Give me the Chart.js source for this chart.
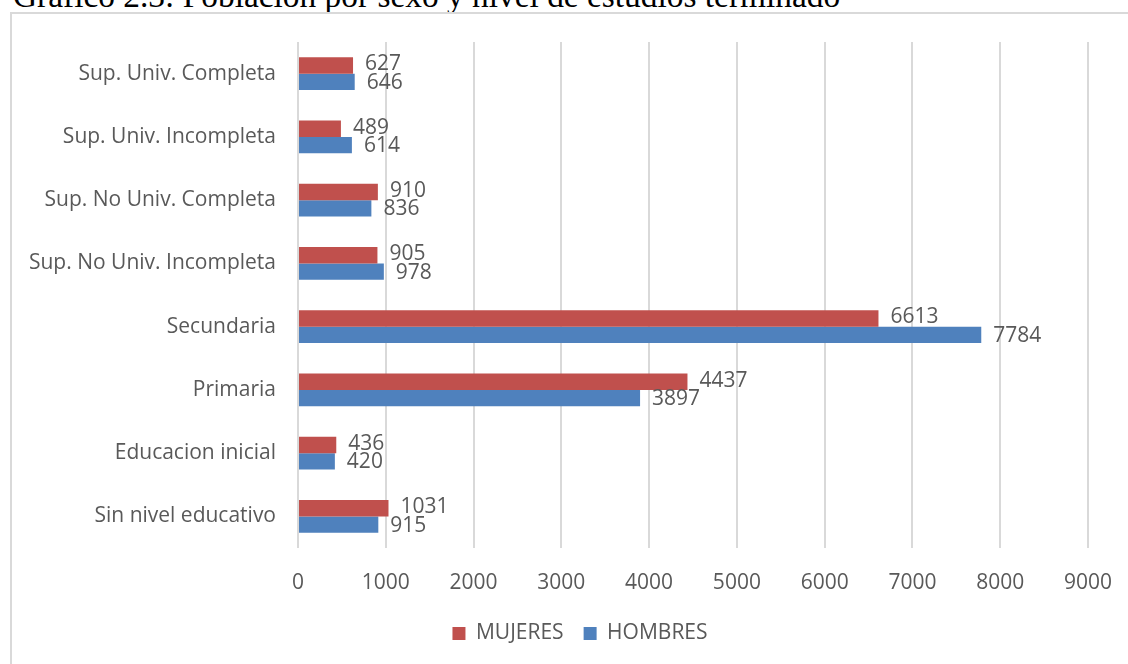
<!DOCTYPE html>
<html>
<head>
<meta charset="utf-8">
<script src="https://cdn.jsdelivr.net/npm/chart.js@4"></script>
<style>
  html, body { margin: 0; padding: 0; background: #fff; overflow: hidden; }
  body { width: 1128px; height: 664px; position: relative; }
  #titulo {
    position: absolute; left: 13px; top: -23px; margin: 0;
    font-family: "Liberation Serif", "DejaVu Serif", serif;
    font-size: 33.4px; font-weight: normal; color: #000; white-space: nowrap;
  }
  #marco {
    position: absolute; left: 10px; top: 12px; width: 1140px; height: 670px;
    border: 2px solid #d9d9d9; box-sizing: border-box;
  }
  #grafico { position: absolute; left: 0; top: 0; }
</style>
</head>
<body>
<div id="titulo">Gráfico 2.3: Población por sexo y nivel de estudios terminado</div>
<div id="marco"></div>
<canvas id="grafico" width="1160" height="664"></canvas>
<script>
// niveles educativos, de arriba hacia abajo
const niveles = [
  "Sup. Univ. Completa",
  "Sup. Univ. Incompleta",
  "Sup. No Univ. Completa",
  "Sup. No Univ. Incompleta",
  "Secundaria",
  "Primaria",
  "Educacion inicial",
  "Sin nivel educativo",
];
const mujeres = [627, 489, 910, 905, 6613, 4437, 436, 1031];
const hombres = [646, 614, 836, 978, 7784, 3897, 420, 915];

const ticksX = [0, 1000, 2000, 3000, 4000, 5000, 6000, 7000, 8000, 9000];

const colorTexto = "#595959";
const fuente = '"Open Sans", "Liberation Sans", sans-serif';

// etiquetas de valor al final de cada barra
const etiquetasValor = {
  id: "etiquetasValor",
  afterDatasetsDraw(chart) {
    const ctx = chart.ctx;
    ctx.save();
    ctx.font = "21px " + fuente;
    ctx.fillStyle = colorTexto;
    ctx.textBaseline = "middle";
    ctx.textAlign = "left";
    chart.data.datasets.forEach((ds, i) => {
      const meta = chart.getDatasetMeta(i);
      meta.data.forEach((bar, j) => {
        const dy = i === 0 ? -1 : 1;
        ctx.fillText(String(ds.data[j]), bar.x + 12, bar.y + dy);
      });
    });
    ctx.restore();
  },
};

new Chart(document.getElementById("grafico"), {
  type: "bar",
  data: {
    labels: niveles,
    datasets: [
      {
        label: "MUJERES",
        data: mujeres,
        backgroundColor: "#c0504d",
        categoryPercentage: 0.52,
        barPercentage: 1,
      },
      {
        label: "HOMBRES",
        data: hombres,
        backgroundColor: "#4f81bd",
        categoryPercentage: 0.52,
        barPercentage: 1,
      },
    ],
  },
  options: {
    indexAxis: "y",
    responsive: false,
    animation: false,
    layout: { padding: { top: 42, right: 0, bottom: 10, left: 0 } },
    scales: {
      x: {
        min: 0,
        max: 9000,
        afterBuildTicks: (scale) => {
          scale.ticks = ticksX.map((v) => ({ value: v }));
        },
        afterFit: (scale) => {
          scale.height = 55;
        },
        grid: { color: "#d9d9d9", lineWidth: 2, drawTicks: false },
        border: { display: false },
        ticks: {
          padding: 22,
          color: colorTexto,
          font: { family: fuente, size: 21 },
          callback: (v) => String(v),
        },
      },
      y: {
        afterFit: (scale) => {
          scale.width = 298;
        },
        grid: { display: false, drawTicks: false },
        border: { display: false },
        ticks: {
          padding: 22,
          color: colorTexto,
          font: { family: fuente, size: 21 },
        },
      },
      // eje vacío a la derecha: solo reserva espacio
      margenDer: {
        type: "linear",
        position: "right",
        grid: { display: false, drawTicks: false },
        border: { display: false },
        ticks: { display: false },
        afterFit: (scale) => {
          scale.width = 72;
        },
      },
    },
    plugins: {
      legend: {
        position: "bottom",
        labels: {
          boxWidth: 13,
          boxHeight: 13,
          padding: 20,
          color: colorTexto,
          font: { family: fuente, size: 21 },
        },
      },
      tooltip: { enabled: false },
    },
  },
  plugins: [etiquetasValor],
});
</script>
</body>
</html>
